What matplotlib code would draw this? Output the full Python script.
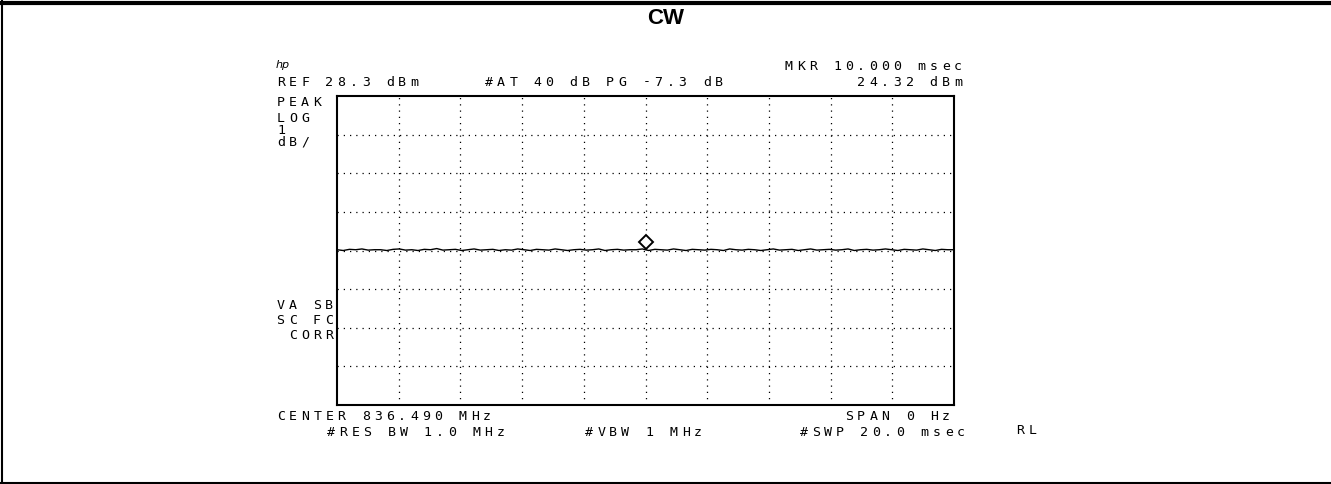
import matplotlib.pyplot as plt
from matplotlib.lines import Line2D

W, H = 1331, 485

# sweep: 0..20 msec, 1 dB/div, ref 28.3 dBm
ref_level = 28.3
db_per_div = 1.0
sweep_ms = 20.0
marker_time = 10.0
marker_level = 24.32

trace_db = [
    24.32, 24.30, 24.33, 24.32, 24.34, 24.31, 24.32, 24.32, 24.30, 24.33,
    24.34, 24.31, 24.32, 24.30, 24.33, 24.32, 24.35, 24.31, 24.32, 24.33,
    24.30, 24.32, 24.34, 24.31, 24.32, 24.33, 24.30, 24.32, 24.31, 24.34,
    24.32, 24.30, 24.33, 24.32, 24.31, 24.34, 24.32, 24.30, 24.32, 24.33,
    24.31, 24.32, 24.34, 24.30, 24.32, 24.33, 24.31, 24.32, 24.32, 24.34,
    24.30, 24.33, 24.32, 24.31, 24.34, 24.32, 24.30, 24.33, 24.32, 24.31,
    24.33, 24.32, 24.30, 24.34, 24.32, 24.31, 24.33, 24.32, 24.30, 24.32,
    24.34, 24.31, 24.32, 24.33, 24.30, 24.32, 24.34, 24.31, 24.32, 24.33,
    24.31, 24.32, 24.34, 24.30, 24.32, 24.33, 24.31, 24.32, 24.34, 24.32,
    24.30, 24.33, 24.32, 24.31, 24.34, 24.32, 24.30, 24.33, 24.32, 24.32,
]
trace_t = [i * sweep_ms / (len(trace_db) - 1) for i in range(len(trace_db))]


def px(x, y):
    return x / W, 1 - y / H


fig = plt.figure(figsize=(W / 100, H / 100), dpi=100)

ax = fig.add_axes([337 / W, (H - 406) / H, 617 / W, 309 / H])
ax.set_xlim(0, sweep_ms)
ax.set_ylim(ref_level - 8 * db_per_div, ref_level)
ax.set_xticks([i * 2 for i in range(1, 10)])
ax.set_yticks([ref_level - i * db_per_div for i in range(1, 8)])
ax.tick_params(length=0, labelbottom=False, labelleft=False)
ax.grid(True, color="black", linestyle=(0, (1, 4)), linewidth=0.9)
for s in ax.spines.values():
    s.set_linewidth(1.5)

ax.plot(trace_t, trace_db, color="black", linewidth=1.0)
ax.plot([marker_time], [marker_level + 0.2], marker="D", markersize=7,
        markerfacecolor="white", markeredgecolor="black", markeredgewidth=1.4)

PITCH = 12.1  # analyzer screen font: fixed character cell in pixels


def label(x, y, s, ha="left"):
    # draw character by character on a wide fixed pitch, like the HP display
    if ha == "right":
        x = x - PITCH * len(s)
    for i, ch in enumerate(s):
        if ch == " ":
            continue
        fig.text(*px(x + PITCH * (i + 0.5), y), ch, ha="center", va="center",
                 family="DejaVu Sans Mono", fontsize=9.5, color="black")


fig.text(*px(276, 65), "hp", ha="left", va="center", fontsize=8,
         style="italic", family="DejaVu Sans")
label(275, 82, "REF 28.3 dBm")
label(483, 82, "#AT 40 dB PG -7.3 dB")
label(964, 67, "MKR 10.000 msec", ha="right")
label(964, 82, "24.32 dBm", ha="right")
label(275, 102, "PEAK")
label(275, 118, "LOG")
label(275, 131, "1")
label(275, 142, "dB/")
label(335, 306, "VA SB", ha="right")
label(335, 321, "SC FC", ha="right")
label(335, 336, "CORR", ha="right")
label(275, 417, "CENTER 836.490 MHz")
label(325, 432, "#RES BW 1.0 MHz")
label(583, 432, "#VBW 1 MHz")
label(952, 417, "SPAN 0 Hz", ha="right")
label(967, 432, "#SWP 20.0 msec", ha="right")
label(1014, 431, "RL")

fig.text(*px(666, 19), "CW", ha="center", va="center", fontsize=16,
         fontweight="bold", family="Liberation Sans")

# outer frame (top, left, bottom)
fig.add_artist(Line2D([0, 1], [1 - 3.5 / H] * 2, color="black", linewidth=3))
fig.add_artist(Line2D([2 / W] * 2, [0, 1], color="black", linewidth=1.5))
fig.add_artist(Line2D([0, 1], [1.5 / H] * 2, color="black", linewidth=1.5))

fig.savefig("out.png", dpi=100)
